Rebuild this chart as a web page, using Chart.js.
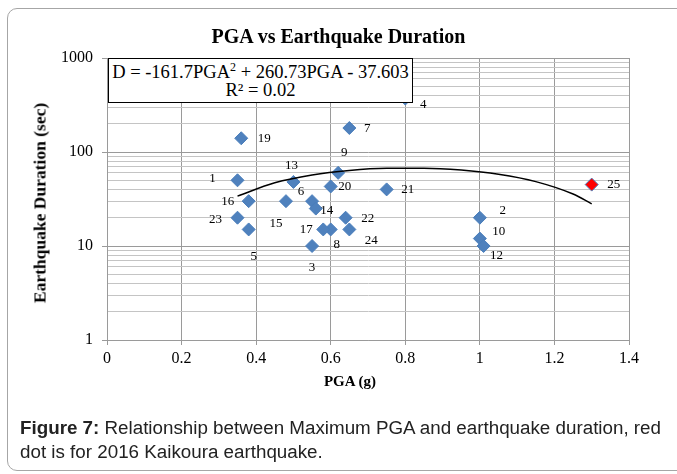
<!DOCTYPE html>
<html>
<head>
<meta charset="utf-8">
<script src="https://cdn.jsdelivr.net/npm/chart.js@4.4.0/dist/chart.umd.min.js"></script>
<style>
  body { margin: 0; width: 677px; height: 474px; overflow: hidden; position: relative; background: #fff; font-family: "Liberation Serif", serif; }
  #frame { position: absolute; left: 7px; top: 8px; width: 720px; height: 463px; border: 1px solid #a6a6a6; border-radius: 10px; box-sizing: border-box; }
  #chart { position: absolute; left: 0; top: 0; }
  .txt { position: absolute; white-space: nowrap; color: #000; }
  #title { left: 0; width: 677px; top: 25px; text-align: center; font-weight: bold; font-size: 20px; }
  #ytitle { left: 40px; top: 203px; font-weight: bold; font-size: 17.5px; transform: translate(-50%, -50%) rotate(-90deg); }
  #xtitle { left: 350px; top: 381px; font-weight: bold; font-size: 15px; transform: translate(-50%, -50%); }
  #eqbox { position: absolute; left: 108px; top: 58px; width: 305px; height: 45px; box-sizing: border-box; border: 1px solid #000; background: #fff; font-size: 18.5px; text-align: center; line-height: 18px; padding-top: 4px; }
  #caption { left: 20px; top: 416px; font-family: "Liberation Sans", Arial, sans-serif; font-size: 18.8px; line-height: 24px; color: #222; }
</style>
</head>
<body>
<div id="frame"></div>
<canvas id="chart" width="677" height="474"></canvas>
<div class="txt" id="title">PGA vs Earthquake Duration</div>
<div class="txt" id="ytitle">Earthquake Duration (sec)</div>
<div class="txt" id="xtitle">PGA (g)</div>
<div id="eqbox">D = -161.7PGA<sup style="font-size:12px;line-height:0">2</sup> + 260.73PGA - 37.603<br>R² = 0.02</div>
<div class="txt" id="caption"><b>Figure 7:</b> Relationship between Maximum PGA and earthquake duration, red<br>dot is for 2016 Kaikoura earthquake.</div>
<script>
// 地震番号
const quakeIds = [1, 2, 3, 4, 5, 6, 7, 8, 9, 10, 12, 13, 14, 15, 16, 17, 19, 20, 21, 22, 23, 24, 25];
// 最大PGA (g)
const pgaValues = [0.35, 1.0, 0.55, 0.8, 0.38, 0.55, 0.65, 0.6, 0.62, 1.0, 1.01, 0.5, 0.56, 0.48, 0.38, 0.58, 0.36, 0.6, 0.75, 0.64, 0.35, 0.65, 1.3];
// 継続時間 (sec)
const durationValues = [50, 20, 10, 370, 15, 30, 180, 15, 60, 12, 10, 48, 25, 30, 30, 15, 140, 43, 40, 20, 20, 15, 45];
// 2016 Kaikoura
const kaikouraId = 25;

// 近似曲線
const trendPga = [0.35, 0.45, 0.55, 0.65, 0.75, 0.85, 0.95, 1.05, 1.15, 1.25, 1.3];
const trendDuration = [33.9, 47.0, 56.9, 63.6, 67.0, 67.2, 64.2, 57.9, 48.4, 35.7, 28.1];

// 目盛り
const xTickValues = [0, 0.2, 0.4, 0.6, 0.8, 1, 1.2, 1.4];
const xTickLabels = ['0', '0.2', '0.4', '0.6', '0.8', '1', '1.2', '1.4'];
const yTickValues = [1, 10, 100, 1000];
const yTickLabels = ['1', '10', '100', '1000'];

// ラベル位置 (px offset from the marker)
const labelOffsets = {
  1: [-25, -2], 2: [23, -7], 3: [0, 22], 4: [18, 6], 5: [5, 27], 6: [-11, -10],
  7: [18, 1], 8: [6, 15], 9: [6, -20], 10: [19, -7], 12: [13, 10], 13: [-2, -16],
  14: [11, 2], 15: [-10, 22], 16: [-21, 0], 17: [-17, 0], 19: [23, 0], 20: [14, 0],
  21: [21, 0], 22: [22, 1], 23: [-22, 2], 24: [22, 11], 25: [22, 0]
};

const colors = {
  marker: '#4f81bd',
  markerBorder: '#4a7ebb',
  red: '#ff0000',
  grid: '#9a9a9a',
  minorGrid: '#c4c4c4',
  text: '#000'
};

// 対数軸の補助目盛り（2〜9）
const yGridValues = [];
yTickValues.forEach((v, i) => {
  yGridValues.push(v);
  if (i < yTickValues.length - 1) {
    for (let k = 2; k <= 9; k++) yGridValues.push(v * k);
  }
});

const pointLabels = {
  id: 'pointLabels',
  afterDatasetsDraw(chart) {
    const meta = chart.getDatasetMeta(1);
    const ctx = chart.ctx;
    ctx.save();
    ctx.font = '13px "Liberation Serif", serif';
    ctx.fillStyle = colors.text;
    ctx.textAlign = 'center';
    ctx.textBaseline = 'middle';
    meta.data.forEach((el, i) => {
      const id = quakeIds[i];
      const off = labelOffsets[id] || [18, 0];
      ctx.fillText(String(id), el.x + off[0], el.y + off[1]);
    });
    ctx.restore();
  }
};

new Chart(document.getElementById('chart'), {
  type: 'scatter',
  data: {
    datasets: [
      {
        type: 'line',
        data: trendPga.map((x, i) => ({ x: x, y: trendDuration[i] })),
        borderColor: '#000',
        borderWidth: 1.5,
        pointRadius: 0,
        fill: false,
        cubicInterpolationMode: 'monotone',
        order: 0
      },
      {
        data: pgaValues.map((x, i) => ({ x: x, y: durationValues[i] })),
        pointStyle: 'rectRot',
        pointRadius: 6.5,
        backgroundColor: quakeIds.map(id => id === kaikouraId ? colors.red : colors.marker),
        borderColor: colors.markerBorder,
        borderWidth: 1,
        order: 1
      }
    ]
  },
  options: {
    responsive: false,
    animation: false,
    layout: { padding: { left: 0, top: 58, right: 48, bottom: 0 } },
    plugins: {
      legend: { display: false },
      tooltip: { enabled: false }
    },
    scales: {
      x: {
        type: 'linear',
        min: 0,
        max: 1.4,
        afterFit(scale) { scale.height = 134; },
        afterBuildTicks(scale) { scale.ticks = xTickValues.map(v => ({ value: v })); },
        grid: { color: colors.grid, lineWidth: 1, tickLength: 5, tickColor: colors.grid },
        border: { color: colors.grid },
        ticks: {
          autoSkip: false,
          maxRotation: 0,
          padding: 4,
          color: colors.text,
          font: { family: '"Liberation Serif", serif', size: 16 },
          callback: (v, i) => xTickLabels[i]
        }
      },
      y: {
        type: 'logarithmic',
        min: 1,
        max: 1000,
        afterFit(scale) { scale.width = 107; },
        afterBuildTicks(scale) { scale.ticks = yGridValues.map(v => ({ value: v })); },
        grid: {
          color: c => yTickValues.includes(c.tick.value) ? colors.grid : colors.minorGrid,
          tickColor: c => yTickValues.includes(c.tick.value) ? colors.grid : 'rgba(0,0,0,0)',
          lineWidth: 1,
          tickLength: 5
        },
        border: { color: colors.grid },
        ticks: {
          autoSkip: false,
          padding: 9,
          color: colors.text,
          font: { family: '"Liberation Serif", serif', size: 16 },
          callback: v => {
            const i = yTickValues.indexOf(v);
            return i >= 0 ? yTickLabels[i] : '';
          }
        }
      }
    }
  },
  plugins: [pointLabels]
});
</script>
</body>
</html>
